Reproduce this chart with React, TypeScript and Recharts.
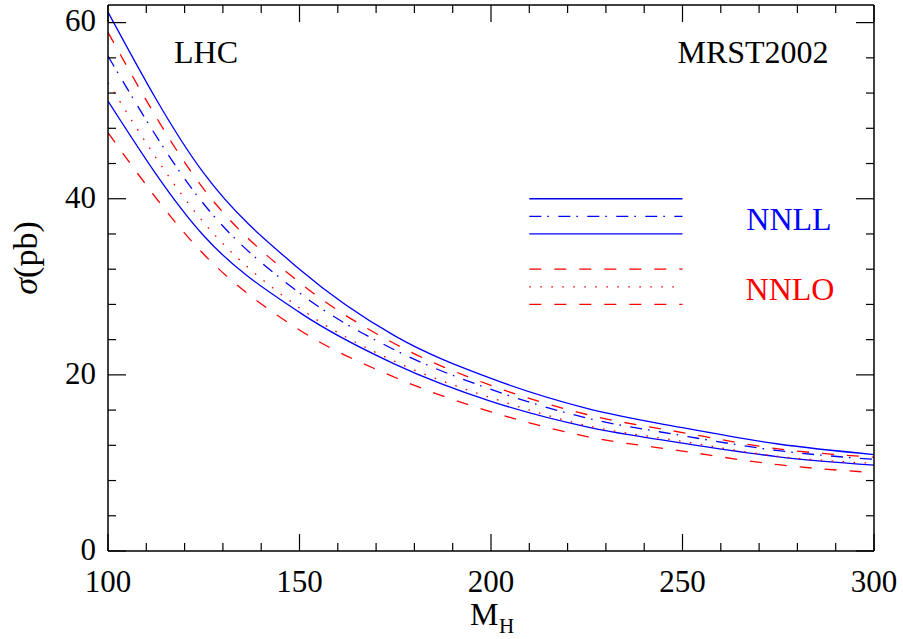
import { LineChart, Line, XAxis, YAxis, ReferenceLine } from "recharts";

const MASS = [100, 125, 150, 175, 200, 225, 250, 275, 300];
const NNLL_UPPER = [61.2, 42.9, 32.0, 24.4, 19.6, 16.2, 14.0, 12.15, 10.95];
const NNLL_CENTRAL = [56.2, 39.4, 29.3, 22.8, 18.35, 15.1, 13.1, 11.4, 10.4];
const NNLL_LOWER = [51.1, 35.8, 27.1, 21.2, 17.0, 14.1, 12.25, 10.7, 9.75];
const NNLO_UPPER = [58.9, 41.1, 30.5, 23.5, 18.8, 15.5, 13.45, 11.6, 10.65];
const NNLO_CENTRAL = [53.2, 37.3, 27.6, 21.5, 17.4, 14.25, 12.45, 10.75, 9.95];
const NNLO_LOWER = [47.5, 33.7, 25.1, 19.7, 15.8, 13.0, 11.35, 9.8, 8.9];

const X_TICKS = [100, 110, 120, 130, 140, 150, 160, 170, 180, 190, 200, 210, 220, 230, 240, 250, 260, 270, 280, 290, 300];
const Y_TICKS = [0, 4, 8, 12, 16, 20, 24, 28, 32, 36, 40, 44, 48, 52, 56, 60];

// legend sample lines sit inside the plot, in data units
const LEGEND_X = [210, 250];
const LEGEND_Y = [40, 38, 36, 32, 30, 28];

const BLUE = "#0000ff";
const RED = "#ff0000";
const FONT = "'Liberation Serif', serif";
const SOLID = undefined;
const DASH = "12 13";
const DOT = "1.6 9.4";
const DASHDOT = "12 6 1.6 9.4";

const data = MASS.map((m, i) => ({
  m,
  nnllUpper: NNLL_UPPER[i],
  nnllCentral: NNLL_CENTRAL[i],
  nnllLower: NNLL_LOWER[i],
  nnloUpper: NNLO_UPPER[i],
  nnloCentral: NNLO_CENTRAL[i],
  nnloLower: NNLO_LOWER[i],
}));

const series = [
  { key: "nnllUpper", color: BLUE, dash: SOLID },
  { key: "nnllCentral", color: BLUE, dash: DASHDOT },
  { key: "nnllLower", color: BLUE, dash: SOLID },
  { key: "nnloUpper", color: RED, dash: DASH },
  { key: "nnloCentral", color: RED, dash: DOT },
  { key: "nnloLower", color: RED, dash: DASH },
];

const tickStroke = { stroke: "#000", strokeWidth: 1.2 };

function BottomTick({ x, y, payload }: any) {
  const major = payload.value % 50 === 0;
  return (
    <g>
      <line x1={x} x2={x} y1={y} y2={y - (major ? 17 : 8)} {...tickStroke} />
      {major && (
        <text x={x} y={y + 41} textAnchor="middle" fontSize={31} fontFamily={FONT} fill="#000">
          {payload.value}
        </text>
      )}
    </g>
  );
}

function TopTick({ x, y, payload }: any) {
  const major = payload.value % 50 === 0;
  return <line x1={x} x2={x} y1={y} y2={y + (major ? 17 : 8)} {...tickStroke} />;
}

function LeftTick({ x, y, payload }: any) {
  const major = payload.value % 20 === 0;
  return (
    <g>
      <line x1={x} x2={x + (major ? 18 : 8)} y1={y} y2={y} {...tickStroke} />
      {major && (
        <text x={x - 12} y={y - 2} dy="0.35em" textAnchor="end" fontSize={31} fontFamily={FONT} fill="#000">
          {payload.value}
        </text>
      )}
    </g>
  );
}

function RightTick({ x, y, payload }: any) {
  const major = payload.value % 20 === 0;
  return <line x1={x} x2={x - (major ? 18 : 8)} y1={y} y2={y} {...tickStroke} />;
}

const frame = { stroke: "#000", strokeWidth: 1.5 };

export default function App() {
  return (
    <div style={{ position: "absolute", left: 0, top: 0, width: 903, height: 639, background: "#fff" }}>
      <LineChart width={903} height={639} data={data} margin={{ top: 0, right: 0, bottom: 0, left: 0 }}>
        <XAxis
          xAxisId="b"
          dataKey="m"
          type="number"
          domain={[100, 300]}
          ticks={X_TICKS}
          interval={0}
          height={88}
          tickSize={0}
          tickMargin={0}
          tickLine={false}
          axisLine={frame}
          tick={BottomTick}
          allowDataOverflow
        />
        <XAxis
          xAxisId="t"
          orientation="top"
          dataKey="m"
          type="number"
          domain={[100, 300]}
          ticks={X_TICKS}
          interval={0}
          height={5}
          tickSize={0}
          tickMargin={0}
          tickLine={false}
          axisLine={frame}
          tick={TopTick}
          allowDataOverflow
        />
        <YAxis
          yAxisId="l"
          type="number"
          domain={[0, 62]}
          ticks={Y_TICKS}
          interval={0}
          width={108}
          tickSize={0}
          tickMargin={0}
          tickLine={false}
          axisLine={frame}
          tick={LeftTick}
          allowDataOverflow
        />
        <YAxis
          yAxisId="r"
          orientation="right"
          type="number"
          domain={[0, 62]}
          ticks={Y_TICKS}
          interval={0}
          width={29}
          tickSize={0}
          tickMargin={0}
          tickLine={false}
          axisLine={frame}
          tick={RightTick}
          allowDataOverflow
        />
        {series.map((s) => (
          <Line
            key={s.key}
            xAxisId="b"
            yAxisId="l"
            dataKey={s.key}
            type="monotone"
            stroke={s.color}
            strokeWidth={1.3}
            strokeDasharray={s.dash}
            dot={false}
            activeDot={false}
            isAnimationActive={false}
          />
        ))}
        {LEGEND_Y.map((yv, i) => (
          <ReferenceLine
            key={yv}
            xAxisId="b"
            yAxisId="l"
            segment={[
              { x: LEGEND_X[0], y: yv },
              { x: LEGEND_X[1], y: yv },
            ]}
            stroke={series[i].color}
            strokeWidth={1.3}
            strokeDasharray={series[i].dash}
            ifOverflow="visible"
          />
        ))}
      </LineChart>
      <svg
        width={903}
        height={639}
        style={{ position: "absolute", left: 0, top: 0, pointerEvents: "none" }}
        fontFamily={FONT}
      >
        <text x={206} y={63} textAnchor="middle" fontSize={32} fill="#000">LHC</text>
        <text x={753} y={63} textAnchor="middle" fontSize={32} fill="#000">MRST2002</text>
        <text x={789} y={230} textAnchor="middle" fontSize={32} fill={BLUE}>NNLL</text>
        <text x={790} y={300} textAnchor="middle" fontSize={32} fill={RED}>NNLO</text>
        <text x={470} y={625} fontSize={32} fill="#000">M</text>
        <text x={499} y={633} fontSize={21} fill="#000">H</text>
        <text transform="translate(37,258) rotate(-90)" textAnchor="middle" fontSize={34} fill="#000">
          <tspan fontStyle="italic">σ</tspan>(pb)
        </text>
      </svg>
    </div>
  );
}
